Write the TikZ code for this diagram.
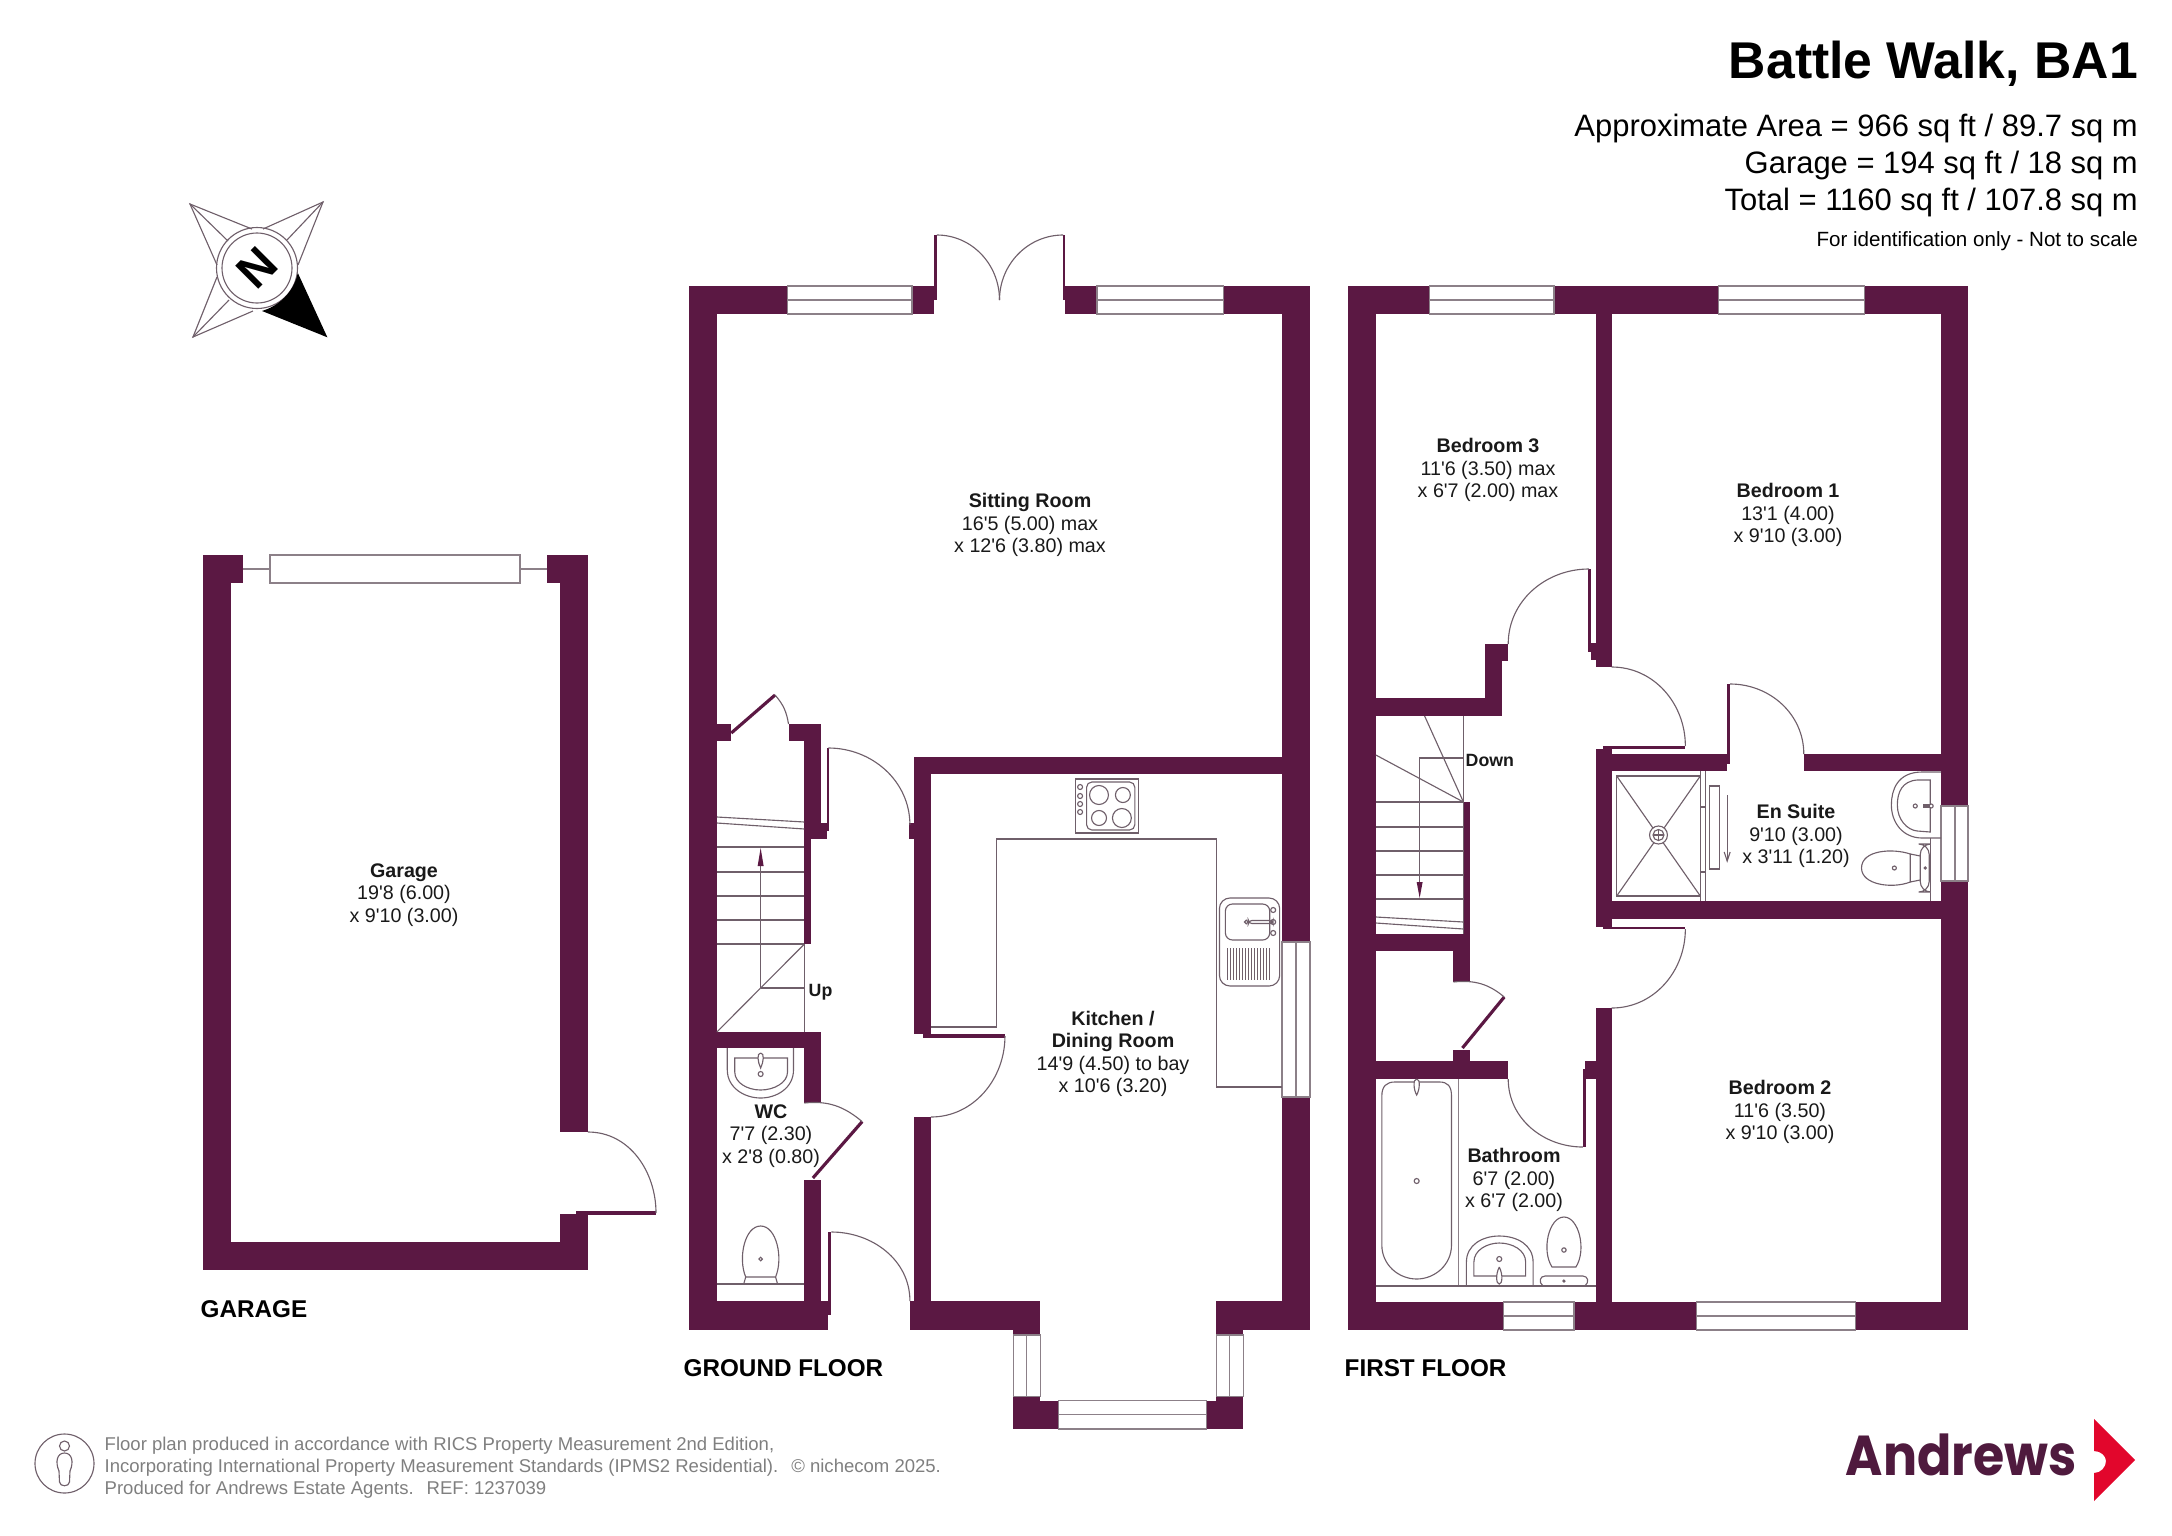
\documentclass[tikz,border=0pt]{standalone}
\usepackage{fontspec}
\newfontfamily\planfont{Liberation Sans}
\newfontfamily\logofont{Poppins}[FakeStretch=0.9]
\definecolor{wallplum}{HTML}{5B1843}
\definecolor{fineline}{HTML}{6F5F6A}
\definecolor{glazeline}{HTML}{8C8088}
\definecolor{footgrey}{HTML}{7F7F7F}
\definecolor{logoplum}{HTML}{4F1A3E}
\definecolor{logored}{HTML}{E2062C}
\newcommand{\roomfont}{\planfont\fontsize{5.6}{6.4}\selectfont}
\tikzset{
    wall/.style={fill=wallplum, draw=none},
    fine/.style={draw=fineline, line width=0.32pt},
    glaze/.style={draw=glazeline, fill=white, line width=0.4pt},
    leaf/.style={draw=wallplum, line width=0.9pt},
    room/.style={align=center, inner sep=0pt, text=black!90, font=\roomfont},
    tag/.style={anchor=west, inner sep=0pt, text=black!90, font=\planfont\bfseries\fontsize{5.05}{6}\selectfont},
    floorname/.style={anchor=base west, inner sep=0pt, font=\planfont\bfseries\fontsize{6.9}{8}\selectfont},
    arearow/.style={anchor=base east, inner sep=0pt, font=\planfont\fontsize{8.8}{10}\selectfont},
    footrow/.style={anchor=base west, inner sep=0pt, text=footgrey, font=\planfont\fontsize{5.27}{6}\selectfont}
}

\begin{document}
\begin{tikzpicture}[x=0.01cm, y=-0.01cm]
    \useasboundingbox (0,0) rectangle (2172,1536);

    % garage
    \filldraw[wall] (203,555) rectangle (231,1270);
    \filldraw[wall] (203,555) rectangle (243,583);
    \filldraw[wall] (547,555) rectangle (588,583);
    \filldraw[wall] (560,555) rectangle (588,1132);
    \filldraw[wall] (560,1214) rectangle (588,1270);
    \filldraw[wall] (203,1242) rectangle (588,1270);
    \draw[glaze] (270,555) rectangle (520,583);
    \draw[glaze] (243,569) -- (270,569);
    \draw[glaze] (520,569) -- (547,569);
    \draw[leaf] (576,1213) -- (656,1213);
    \draw[fine] (588,1132) to[out=0,in=90] (656,1213);

    \begin{scope}[shift={(3.3,0)}, xscale=0.9952]
    % ground floor walls
    \filldraw[wall] (689,286) rectangle (717,1329.5);
    \filldraw[wall] (689,286) rectangle (788,314);
    \filldraw[wall] (913,286) rectangle (938,300);
    \filldraw[wall] (913,300) rectangle (935,314);
    \filldraw[wall] (935,235) rectangle (938,290);
    \filldraw[wall] (1064.5,235) rectangle (1067,290);
    \filldraw[wall] (1064.5,286) rectangle (1099,300);
    \filldraw[wall] (1067,300) rectangle (1099,314);
    \filldraw[wall] (1226,286) rectangle (1313,314);
    \filldraw[wall] (1285,286) rectangle (1313,942);
    \filldraw[wall] (1285,1097) rectangle (1313,1329.5);
    \filldraw[wall] (717,724) rectangle (731.5,741);
    \filldraw[wall] (789,724) rectangle (822,741);
    \filldraw[wall] (805,724) rectangle (822,831);
    \filldraw[wall] (805,823) rectangle (812,944);
    \filldraw[wall] (812,823) rectangle (828,839);
    \filldraw[wall] (822,823) rectangle (830,831);
    \filldraw[wall] (828,748) rectangle (830,831);
    \filldraw[wall] (910,823) rectangle (916,839);
    \filldraw[wall] (915,757) rectangle (932,1034);
    \filldraw[wall] (915,757) rectangle (1285,773.5);
    \filldraw[wall] (924,1034) rectangle (1006.5,1038);
    \filldraw[wall] (915,1117) rectangle (932,1302);
    \filldraw[wall] (717,1032) rectangle (822,1048);
    \filldraw[wall] (805,1032) rectangle (822,1103);
    \filldraw[wall] (805,1180) rectangle (822,1315);
    \filldraw[wall] (822,1301) rectangle (832,1315);
    \filldraw[wall] (829,1232) rectangle (832,1315);
    \filldraw[wall] (689,1301) rectangle (805,1329.5);
    \filldraw[wall] (800,1315) rectangle (829,1329.5);
    \filldraw[wall] (911,1301) rectangle (1042,1329.5);
    \filldraw[wall] (1015,1320) rectangle (1042,1335);
    \filldraw[wall] (1219,1301) rectangle (1313,1329.5);
    \filldraw[wall] (1219,1320) rectangle (1246,1335);
    \filldraw[wall] (1015,1396.5) rectangle (1042,1429);
    \filldraw[wall] (1040,1400.5) rectangle (1060,1429);
    \filldraw[wall] (1209,1400.5) rectangle (1221,1429);
    \filldraw[wall] (1219,1396.5) rectangle (1246,1429);

    % ground floor windows
    \draw[glaze] (788,286) rectangle (913,314);
    \draw[glaze] (788,300) -- (913,300);
    \draw[glaze] (1099,286) rectangle (1226,314);
    \draw[glaze] (1099,300) -- (1226,300);
    \draw[glaze] (1285,942) rectangle (1313,1097);
    \draw[glaze] (1299,942) -- (1299,1097);
    \draw[glaze] (1015,1335) rectangle (1042,1396.5);
    \draw[glaze] (1028,1335) -- (1028,1396.5);
    \draw[glaze] (1219,1335) rectangle (1246,1396.5);
    \draw[glaze] (1232,1335) -- (1232,1396.5);
    \draw[glaze] (1060,1400.5) rectangle (1209,1429);
    \draw[glaze] (1060,1414.5) -- (1209,1414.5);

    % ground floor doors
    \draw[fine] (938,235) to[out=0,in=90] (1001,300);
    \draw[fine] (1065,235) to[out=180,in=90] (1001,300);
    \draw[leaf] (731.5,733) -- (775.5,695);
    \draw[fine] (775.5,695) to[out=-49,in=99] (789,724);
    \draw[fine] (829,748) to[out=0,in=90] (911,825);
    \draw[fine] (1006.5,1036) to[out=-90,in=0] (932,1117);
    \draw[leaf] (813.5,1178) -- (863,1121.6);
    \draw[fine] (805,1103) to[out=6,in=140] (863,1121.6);
    \draw[fine] (832,1232) to[out=0,in=90] (911,1301);

    % ground floor stairs
    \foreach \y in {847,872,896,920,944} {
        \draw[fine] (717,\y) -- (805,\y);
    }
    \draw[fine] (717,817) -- (805,822);
    \draw[fine] (717,823) -- (805,829);
    \draw[fine] (805,944) -- (717,1032);
    \draw[fine] (805,944) -- (805,1032);
    \draw[fine] (761,988) -- (805,988);
    \draw[fine] (761,988) -- (761,860);
    \filldraw[wall] (761,848) -- (764,866) -- (758,866) -- cycle;

    % wc fittings
    \draw[fine] (727.5,1048) -- (727.5,1070) .. controls (727.5,1088) and (745,1098) .. (761,1098) .. controls (777,1098) and (794,1088) .. (794,1070) -- (794,1048);
    \draw[fine] (735,1058) -- (735,1072) .. controls (735,1083) and (748,1090) .. (761,1090) .. controls (774,1090) and (788,1083) .. (788,1072) -- (788,1058) -- cycle;
    \draw[fine, fill=white] (761,1053) .. controls (757,1053) and (758,1062) .. (761,1068) .. controls (764,1062) and (765,1053) .. (761,1053);
    \draw[fine] (761,1074) circle (2.5);
    \draw[fine] (746,1277) .. controls (738,1258) and (745,1226) .. (761,1226) .. controls (777,1226) and (784,1258) .. (776,1277) -- cycle;
    \draw[fine] (746,1277) -- (744,1284);
    \draw[fine] (776,1277) -- (778,1284);
    \draw[fine] (761,1259) circle (1.8);
    \draw[fine] (717,1284) -- (805,1284);

    % kitchen fittings
    \draw[fine] (1077,779) rectangle (1141,833);
    \draw[fine, rounded corners=1.5] (1088.5,782) rectangle (1137,830);
    \draw[fine] (1101,795) circle (9.5);
    \draw[fine] (1125,795) circle (7.5);
    \draw[fine] (1101,818) circle (7.5);
    \draw[fine] (1124,818) circle (9.5);
    \foreach \y in {787,796,804,812} {
        \draw[fine] (1082,\y) circle (2.5);
    }
    \draw[fine] (932,1027) -- (998,1027) -- (998,839) -- (1219,839) -- (1219,1087) -- (1285,1087);
    \draw[fine, fill=white, rounded corners=3] (1222,898) rectangle (1282.5,986);
    \draw[fine, rounded corners=2] (1228,904) rectangle (1272.5,940);
    \draw[fine] (1249,922) circle (1.8);
    \draw[fine, rounded corners=1] (1251,920.5) rectangle (1276,923.5);
    \draw[fine] (1276,922) circle (2.5);
    \draw[fine] (1276,910) circle (2.5);
    \draw[fine] (1276,933) circle (2.5);
    \foreach \x in {1230,1233,...,1272} {
        \draw[fine] (\x,948) -- (\x,980);
    }
    \end{scope}

    \begin{scope}[shift={(6.47,0)}, xscale=0.9952]
    % first floor walls
    \filldraw[wall] (1348,286) rectangle (1376,1330);
    \filldraw[wall] (1348,286) rectangle (1430,314);
    \filldraw[wall] (1555,286) rectangle (1720,314);
    \filldraw[wall] (1867,286) rectangle (1971,314);
    \filldraw[wall] (1944,286) rectangle (1971,806);
    \filldraw[wall] (1944,881) rectangle (1971,1330);
    \filldraw[wall] (1348,1302) rectangle (1504,1330);
    \filldraw[wall] (1575,1302) rectangle (1698,1330);
    \filldraw[wall] (1858,1302) rectangle (1971,1330);
    \filldraw[wall] (1597,314) rectangle (1613,667);
    \filldraw[wall] (1589,643) rectangle (1598,652);
    \filldraw[wall] (1592,650) rectangle (1598,660);
    \filldraw[wall] (1589,569) rectangle (1592,652);
    \filldraw[wall] (1486,644) rectangle (1509,661);
    \filldraw[wall] (1486,644) rectangle (1503,716);
    \filldraw[wall] (1376,698) rectangle (1503,716);
    \filldraw[wall] (1604,746) rectangle (1687,749);
    \filldraw[wall] (1597,749) rectangle (1613,927);
    \filldraw[wall] (1604,746) rectangle (1613,750);
    \filldraw[wall] (1613,754) rectangle (1729,771);
    \filldraw[wall] (1729,684) rectangle (1732,764);
    \filldraw[wall] (1806,754) rectangle (1944,771);
    \filldraw[wall] (1597,901) rectangle (1944,919);
    \filldraw[wall] (1604,927) rectangle (1687,929);
    \filldraw[wall] (1597,1008) rectangle (1613,1302);
    \filldraw[wall] (1586,1061) rectangle (1598,1079);
    \filldraw[wall] (1584,1069) rectangle (1587,1147);
    \filldraw[wall] (1376,1061) rectangle (1509,1079);
    \filldraw[wall] (1454,1050) rectangle (1471,1062);
    \filldraw[wall] (1376,934) rectangle (1471,951);
    \filldraw[wall] (1454,934) rectangle (1471,982);
    \filldraw[wall] (1464,802) rectangle (1471,935);

    % first floor windows
    \draw[glaze] (1430,286) rectangle (1555,314);
    \draw[glaze] (1430,300) -- (1555,300);
    \draw[glaze] (1720,286) rectangle (1867,314);
    \draw[glaze] (1720,300) -- (1867,300);
    \draw[glaze] (1944,806) rectangle (1971,881);
    \draw[glaze] (1958,806) -- (1958,881);
    \draw[glaze] (1504,1302) rectangle (1575,1330);
    \draw[glaze] (1504,1316) -- (1575,1316);
    \draw[glaze] (1698,1302) rectangle (1858,1330);
    \draw[glaze] (1698,1316) -- (1858,1316);

    % first floor doors
    \draw[fine] (1590,569) to[out=180,in=90] (1509,644);
    \draw[fine] (1613,667) to[out=0,in=90] (1687,746);
    \draw[fine] (1732,684) to[out=0,in=90] (1806,754);
    \draw[fine] (1687,929) to[out=-90,in=0] (1613,1008);
    \draw[fine] (1509,1079) to[out=-90,in=180] (1584,1147);
    \draw[leaf] (1463,1048) -- (1505,997);
    \draw[fine] (1454,982) to[out=6,in=140] (1505,997);

    % first floor stairs
    \foreach \y in {802,827,851,875,899} {
        \draw[fine] (1376,\y) -- (1464,\y);
    }
    \draw[fine] (1376,917) -- (1464,922);
    \draw[fine] (1376,923) -- (1464,929);
    \draw[fine] (1464,716) -- (1464,934);
    \draw[fine] (1464,802) -- (1376,755);
    \draw[fine] (1464,802) -- (1425,716);
    \draw[fine] (1464,758) -- (1420,758) -- (1420,885);
    \filldraw[wall] (1420,898) -- (1423,882) -- (1417,882) -- cycle;

    % en suite fittings
    \draw[fine] (1618,776) rectangle (1702,896);
    \draw[fine] (1618,776) -- (1702,896);
    \draw[fine] (1702,776) -- (1618,896);
    \draw[fine, fill=white] (1660,835) circle (9);
    \draw[fine] (1660,835) circle (5.5);
    \draw[fine] (1654.5,835) -- (1665.5,835);
    \draw[fine] (1660,829.5) -- (1660,840.5);
    \draw[fine] (1707,771) -- (1707,901);
    \draw[fine] (1702,771) -- (1702,807) -- (1707,807);
    \draw[fine] (1702,872) -- (1707,872);
    \draw[fine] (1702,872) -- (1702,901);
    \draw[fine] (1711.5,786) rectangle (1721.6,869);
    \draw[fine] (1729,795) -- (1729,861);
    \draw[fine] (1726,852) -- (1729,861) -- (1732,852);
    \draw[fine] (1944,772) -- (1925,772) .. controls (1900,772) and (1894,790) .. (1894,805) .. controls (1894,822) and (1905,838) .. (1925,838) -- (1944,838);
    \draw[fine] (1933,780) -- (1920,780) .. controls (1905,781) and (1900,792) .. (1900,805) .. controls (1900,820) and (1910,830) .. (1920,831) -- (1933,832) -- cycle;
    \draw[fine] (1918,806) circle (2);
    \draw[fine] (1926,805) -- (1936,805);
    \draw[fine] (1926,807) -- (1936,807);
    \draw[fine, fill=white] (1934,806) circle (2);
    \draw[fine] (1933,838) -- (1933,901);
    \draw[fine] (1913,854) .. controls (1895,848) and (1864,850) .. (1864,868) .. controls (1864,885) and (1895,889) .. (1913,882) -- cycle;
    \draw[fine] (1913,854) -- (1923,856);
    \draw[fine] (1913,882) -- (1923,880);
    \draw[fine, fill=white, rounded corners=3] (1923,844) rectangle (1932,892);
    \draw[fine] (1897,868) circle (2);
    \draw[fine] (1928,868) circle (1);

    % bathroom fittings
    \draw[fine] (1382,1096) .. controls (1382,1086) and (1387,1082) .. (1395,1082) -- (1440,1082) .. controls (1448,1082) and (1452,1086) .. (1452,1096) -- (1452,1245) .. controls (1452,1265) and (1435,1279) .. (1417,1279) .. controls (1399,1279) and (1382,1265) .. (1382,1245) -- cycle;
    \draw[fine, fill=white] (1417,1079) .. controls (1413,1079) and (1414,1090) .. (1417,1095) .. controls (1420,1090) and (1421,1079) .. (1417,1079);
    \draw[fine] (1417,1181) circle (2.5);
    \draw[glaze] (1459,1079) -- (1459,1286);
    \draw[fine] (1376,1286) -- (1597,1286);
    \draw[fine] (1467,1286) -- (1467,1262) .. controls (1467,1245) and (1483,1236) .. (1500,1236) .. controls (1518,1236) and (1534,1245) .. (1534,1262) -- (1534,1286);
    \draw[fine] (1474.5,1276) -- (1474.5,1262) .. controls (1474.5,1250) and (1488,1243) .. (1500,1243) .. controls (1513,1243) and (1526.5,1250) .. (1526.5,1262) -- (1526.5,1276) -- cycle;
    \draw[fine] (1500,1259) circle (2.5);
    \draw[fine, fill=white] (1500,1267) .. controls (1496,1275) and (1497,1284) .. (1500,1284) .. controls (1503,1284) and (1504,1275) .. (1500,1267);
    \draw[fine] (1553,1267) .. controls (1542,1250) and (1550,1217) .. (1565,1217) .. controls (1580,1217) and (1588,1250) .. (1577,1267) -- cycle;
    \draw[fine] (1565,1250) circle (2.2);
    \draw[fine] (1544,1286) .. controls (1539,1282) and (1541,1276) .. (1546,1276) -- (1584,1276) .. controls (1589,1276) and (1591,1282) .. (1586,1286);
    \draw[fine] (1565,1281) circle (1);
    \end{scope}

    % compass
    \draw[fine] (257,268) circle (40.5);
    \draw[fine] (257,268) circle (35);
    \draw[fine] (252,229) -- (190,204) -- (217,265);
    \draw[fine] (228,241) -- (190,204);
    \draw[fine] (263,229) -- (323,202) -- (298,265);
    \draw[fine] (287,240) -- (323,202);
    \draw[fine] (217,277) -- (193,337) -- (253,311);
    \draw[fine] (229,300) -- (193,337);
    \filldraw[black] (326,336) -- (298,275) .. controls (294,292) and (280,306) .. (264,311) -- cycle;
    \node[font=\planfont\bfseries\fontsize{13.5}{14}\selectfont, rotate=45, inner sep=0pt] (northmark) at (257,268) {N};

    % room labels
    \node[room] (garagetext) at (404,895) {\textbf{Garage}\\19'8 (6.00)\\x 9'10 (3.00)};
    \node[room] (sitting) at (1030,525) {\textbf{Sitting Room}\\16'5 (5.00) max\\x 12'6 (3.80) max};
    \node[room] (kitchen) at (1113,1054) {\textbf{Kitchen /}\\\textbf{Dining Room}\\14'9 (4.50) to bay\\x 10'6 (3.20)};
    \node[room] (wctext) at (771,1136) {\textbf{WC}\\7'7 (2.30)\\x 2'8 (0.80)};
    \node[tag] (uptext) at (808,992) {Up};
    \node[tag] (downtext) at (1465,760) {Down};
    \node[room] (bedthree) at (1488,470) {\textbf{Bedroom 3}\\11'6 (3.50) max\\x 6'7 (2.00) max};
    \node[room] (bedone) at (1788,515) {\textbf{Bedroom 1}\\13'1 (4.00)\\x 9'10 (3.00)};
    \node[room] (ensuite) at (1796,836) {\textbf{En Suite}\\9'10 (3.00)\\x 3'11 (1.20)};
    \node[room] (bedtwo) at (1780,1112) {\textbf{Bedroom 2}\\11'6 (3.50)\\x 9'10 (3.00)};
    \node[room] (bathtext) at (1514,1180) {\textbf{Bathroom}\\6'7 (2.00)\\x 6'7 (2.00)};

    % floor names
    \node[floorname] (garagename) at (200,1317) {GARAGE};
    \node[floorname] (groundname) at (683,1376) {GROUND FLOOR};
    \node[floorname] (firstname) at (1344,1376) {FIRST FLOOR};

    % heading
    \node[anchor=base east, inner sep=0pt, font=\planfont\bfseries\fontsize{14.7}{16}\selectfont] (heading) at (2138.5,78) {Battle Walk, BA1};
    \node[arearow] (arearowa) at (2138.5,136) {Approximate Area = 966 sq ft / 89.7 sq m};
    \node[arearow] (arearowb) at (2138.5,173) {Garage = 194 sq ft / 18 sq m};
    \node[arearow] (arearowc) at (2138.5,210) {Total = 1160 sq ft / 107.8 sq m};
    \node[anchor=base east, inner sep=0pt, font=\planfont\fontsize{5.85}{7}\selectfont] (notscale) at (2138.5,246) {For identification only - Not to scale};

    % footer
    \draw[fine] (64.5,1463.5) circle (29.5);
    \draw[fine] (64.5,1446) circle (5);
    \draw[fine] (59,1471) .. controls (55,1462) and (57,1453) .. (64.5,1453) .. controls (72,1453) and (74,1462) .. (70,1471) -- (69.5,1482) .. controls (69,1487) and (60,1487) .. (59.5,1482) -- cycle;
    \node[footrow] (footone) at (104,1450.5) {Floor plan produced in accordance with RICS Property Measurement 2nd Edition,};
    \node[footrow] (foottwo) at (104,1472.5) {Incorporating International Property Measurement Standards (IPMS2 Residential).\hspace{0.7em}\textcopyright\ nichecom 2025.};
    \node[footrow] (footthree) at (104,1494.5) {Produced for Andrews Estate Agents.\hspace{0.7em}REF: 1237039};

    % logo
    \node[anchor=base west, inner sep=0pt, text=logoplum, font=\logofont\bfseries\fontsize{16}{18}\selectfont] (logoword) at (1845,1475) {Andrews};
    \fill[logored] (2094,1419) -- (2135,1460) -- (2094,1501) -- (2094,1473) .. controls (2101,1473) and (2106,1467) .. (2106,1461) .. controls (2106,1456) and (2101,1451) .. (2094,1451) -- cycle;
\end{tikzpicture}
\end{document}
